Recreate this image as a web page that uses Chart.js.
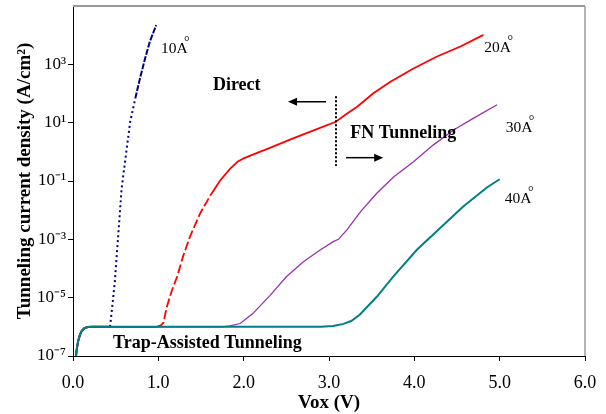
<!DOCTYPE html>
<html><head><meta charset="utf-8">
<script src="https://cdn.jsdelivr.net/npm/chart.js@4/dist/chart.umd.min.js"></script>
<style>html,body{margin:0;padding:0;background:#fff;}#wrap{width:606px;height:414px;}</style>
</head><body><div id="wrap"><canvas id="c" width="606" height="414" style="width:606px;height:414px"></canvas></div>
<script>
// ---- data (Vox in V, J in A/cm^2) ----
const vox10 = [0.035, 0.045, 0.06, 0.08, 0.10, 0.13, 0.17, 0.22, 0.434, 0.46, 0.49, 0.53, 0.57, 0.62, 0.67, 0.73, 0.785, 0.845, 0.90, 0.975];
const j10   = [1e-7, 1.8e-7, 3.2e-7, 5.2e-7, 7e-7, 8.8e-7, 9.8e-7, 1e-6, 1e-6, 5e-6, 3.5e-5, 1.4e-3, 5.6e-2, 7.8e-1, 1.07e1, 6.8e1, 3.3e2, 1.6e3, 6.0e3, 2.2e4];

const vox20 = [0.035, 0.045, 0.06, 0.08, 0.10, 0.13, 0.17, 0.22, 0.98, 1.03, 1.06, 1.10, 1.16, 1.22, 1.29, 1.37, 1.49, 1.61, 1.72, 1.84, 1.93, 2.0, 2.1, 2.3, 2.58, 2.85, 3.08, 3.2, 3.33, 3.52, 3.72, 3.99, 4.26, 4.54, 4.81];
const j20   = [1e-7, 1.8e-7, 3.2e-7, 5.2e-7, 7e-7, 8.8e-7, 9.8e-7, 1e-6, 1e-6, 1.12e-6, 1.4e-6, 4.9e-6, 1.8e-5, 5.2e-5, 2.6e-4, 1.23e-3, 7.8e-3, 3.2e-2, 1.0e-1, 2.6e-1, 4.6e-1, 6.0e-1, 7.9e-1, 1.34, 2.9, 5.9, 10.7, 19.5, 35, 102, 251, 724, 1820, 4070, 10200];

const vox30 = [0.035, 0.045, 0.06, 0.08, 0.10, 0.13, 0.17, 0.22, 1.75, 1.84, 1.96, 2.11, 2.31, 2.5, 2.7, 2.9, 3.05, 3.11, 3.21, 3.37, 3.56, 3.76, 3.99, 4.22, 4.46, 4.69, 4.97];
const j30   = [1e-7, 1.8e-7, 3.2e-7, 5.2e-7, 7e-7, 8.8e-7, 9.8e-7, 1e-6, 1e-6, 1.07e-6, 1.3e-6, 2.9e-6, 1.2e-5, 5.2e-5, 1.7e-4, 4.4e-4, 8.3e-4, 1.0e-3, 2.1e-3, 8.9e-3, 3.8e-2, 1.4e-1, 4.6e-1, 1.7, 5.6, 14, 41];

const vox40 = [0.035, 0.045, 0.06, 0.08, 0.10, 0.13, 0.17, 0.22, 2.9, 3.05, 3.17, 3.26, 3.36, 3.56, 3.75, 4.03, 4.30, 4.57, 4.85, 5.0];
const j40   = [1e-7, 1.8e-7, 3.2e-7, 5.2e-7, 7e-7, 8.8e-7, 9.8e-7, 1e-6, 1e-6, 1.07e-6, 1.26e-6, 1.58e-6, 2.6e-6, 1.07e-5, 5.2e-5, 4.4e-4, 2.4e-3, 1.32e-2, 6.0e-2, 1.15e-1];

const seriesNames = ['10Å', '20Å', '30Å', '40Å'];
const xTicks = [0, 1, 2, 3, 4, 5, 6];
const xTickLabels = ['0.0', '1.0', '2.0', '3.0', '4.0', '5.0', '6.0'];
const yTicks = [1e-7, 1e-5, 1e-3, 1e-1, 1e1, 1e3];
const yTickLabels = ['10⁻⁷', '10⁻⁵', '10⁻³', '10⁻¹', '10¹', '10³'];

// annotation anchors in data units
const curveLabels = [
  {text: '10A', x: 1.03, y: 10 ** 3.39},
  {text: '20A', x: 4.82, y: 10 ** 3.43},
  {text: '30A', x: 5.07, y: 10 ** 0.69},
  {text: '40A', x: 5.06, y: 10 ** -1.76}
];
const boldNotes = [
  {text: 'Direct', x: 1.64, y: 10 ** 2.12},
  {text: 'FN Tunneling', x: 3.25, y: 10 ** 0.46},
  {text: 'Trap-Assisted Tunneling', x: 0.47, y: 10 ** -6.73}
];
const arrows = [
  {x0: 2.965, x1: 2.52, y: 10 ** 1.72},
  {x0: 3.20, x1: 3.635, y: 10 ** -0.2}
];
const divider = {x: 3.082, y0: 10 ** 1.91, y1: 10 ** -0.485};

const FONT = "'Liberation Serif', 'Times New Roman', serif";
const pts = (xs, ys) => xs.map((v, i) => ({x: v, y: ys[i]}));

const annot = {
  id: 'annot',
  beforeDatasetsDraw(chart) {
    const {ctx, chartArea: a} = chart;
    ctx.save();
    ctx.strokeStyle = '#9a9a9a';
    ctx.lineWidth = 2;
    ctx.beginPath(); ctx.moveTo(a.left, a.top); ctx.lineTo(a.right, a.top); ctx.stroke();
    ctx.lineWidth = 1.5;
    ctx.beginPath(); ctx.moveTo(a.right, a.top); ctx.lineTo(a.right, a.bottom); ctx.stroke();
    ctx.restore();
  },
  afterDatasetsDraw(chart) {
    const {ctx} = chart;
    const xs = chart.scales.x, ys = chart.scales.y;
    ctx.save();
    ctx.fillStyle = '#000';
    ctx.textBaseline = 'alphabetic';
    ctx.textAlign = 'left';
    curveLabels.forEach(l => {
      const px = xs.getPixelForValue(l.x), py = ys.getPixelForValue(l.y);
      ctx.font = '15.5px ' + FONT;
      ctx.fillText(l.text, px, py);
      const w = ctx.measureText(l.text).width;
      ctx.font = '14px ' + FONT;
      ctx.fillText('°', px + w - 3.5, py - 7);
    });
    ctx.font = 'bold 18px ' + FONT;
    boldNotes.forEach(n => ctx.fillText(n.text, xs.getPixelForValue(n.x), ys.getPixelForValue(n.y)));
    ctx.strokeStyle = '#000';
    ctx.lineWidth = 1.5;
    arrows.forEach(ar => {
      const x0 = xs.getPixelForValue(ar.x0), x1 = xs.getPixelForValue(ar.x1), y = ys.getPixelForValue(ar.y);
      const dir = Math.sign(x1 - x0);
      ctx.beginPath(); ctx.moveTo(x0, y); ctx.lineTo(x1 - dir * 6, y); ctx.stroke();
      ctx.beginPath(); ctx.moveTo(x1, y); ctx.lineTo(x1 - dir * 9, y - 4); ctx.lineTo(x1 - dir * 9, y + 4); ctx.closePath(); ctx.fill();
    });
    ctx.lineWidth = 2;
    ctx.setLineDash([2, 2]);
    const dx = xs.getPixelForValue(divider.x);
    ctx.beginPath(); ctx.moveTo(dx, ys.getPixelForValue(divider.y0)); ctx.lineTo(dx, ys.getPixelForValue(divider.y1)); ctx.stroke();
    ctx.restore();
  }
};

const common = {pointRadius: 0, fill: false, tension: 0};

new Chart(document.getElementById('c'), {
  type: 'line',
  data: {
    datasets: [
      Object.assign({label: seriesNames[3], data: pts(vox40, j40), borderColor: '#008080', borderWidth: 2}, common),
      Object.assign({label: seriesNames[2], data: pts(vox30, j30), borderColor: '#9a2fae', borderWidth: 1.3}, common),
      Object.assign({label: seriesNames[1], data: pts(vox20, j20), borderColor: '#ff0000', borderWidth: 1.8,
        segment: {borderDash: c => (c.p0.parsed.x >= 0.97 && c.p1.parsed.x <= 1.62) ? [9, 3] : undefined}}, common),
      Object.assign({label: seriesNames[0], data: pts(vox10, j10), borderColor: '#000080', borderWidth: 2,
        segment: {borderDash: c => (c.p0.parsed.x >= 0.43 && c.p1.parsed.x <= 0.735) ? [2, 3] :
                                   (c.p0.parsed.x >= 0.72 ? [6, 1.5] : undefined)}}, common)
    ]
  },
  options: {
    responsive: false,
    animation: false,
    events: [],
    layout: {padding: {top: 6, right: 21, left: 0, bottom: 0}},
    plugins: {legend: {display: false}, tooltip: {enabled: false}},
    scales: {
      x: {
        type: 'linear', min: 0, max: 6,
        afterBuildTicks: s => { s.ticks = xTicks.map(v => ({value: v})); },
        afterFit: s => { s.height = 58; s.paddingLeft = 0; s.paddingRight = 0; },
        ticks: {callback: (v, i) => xTickLabels[i], font: {family: FONT, size: 18}, color: '#000', padding: 11, maxRotation: 0},
        grid: {drawOnChartArea: false, drawTicks: true, tickLength: 5, color: '#000'},
        border: {color: '#000', width: 1},
        title: {display: true, text: 'Vox (V)', font: {family: FONT, size: 19, weight: 'bold'}, color: '#000', padding: {top: 0, bottom: 0}}
      },
      y: {
        type: 'logarithmic', min: 1e-7, max: 1e5,
        afterBuildTicks: s => { s.ticks = yTicks.map(v => ({value: v})); },
        afterFit: s => { s.width = 73; s.paddingTop = 0; s.paddingBottom = 0; },
        ticks: {callback: (v, i) => yTickLabels[i], font: {family: FONT, size: 17}, color: '#000', padding: 2},
        grid: {drawOnChartArea: false, drawTicks: true, tickLength: 5, color: '#000'},
        border: {color: '#000', width: 1},
        title: {display: true, text: 'Tunneling current density (A/cm²)', font: {family: FONT, size: 19, weight: 'bold'}, color: '#000', padding: {top: 14, bottom: 0}}
      }
    }
  },
  plugins: [annot]
});
</script></body></html>
